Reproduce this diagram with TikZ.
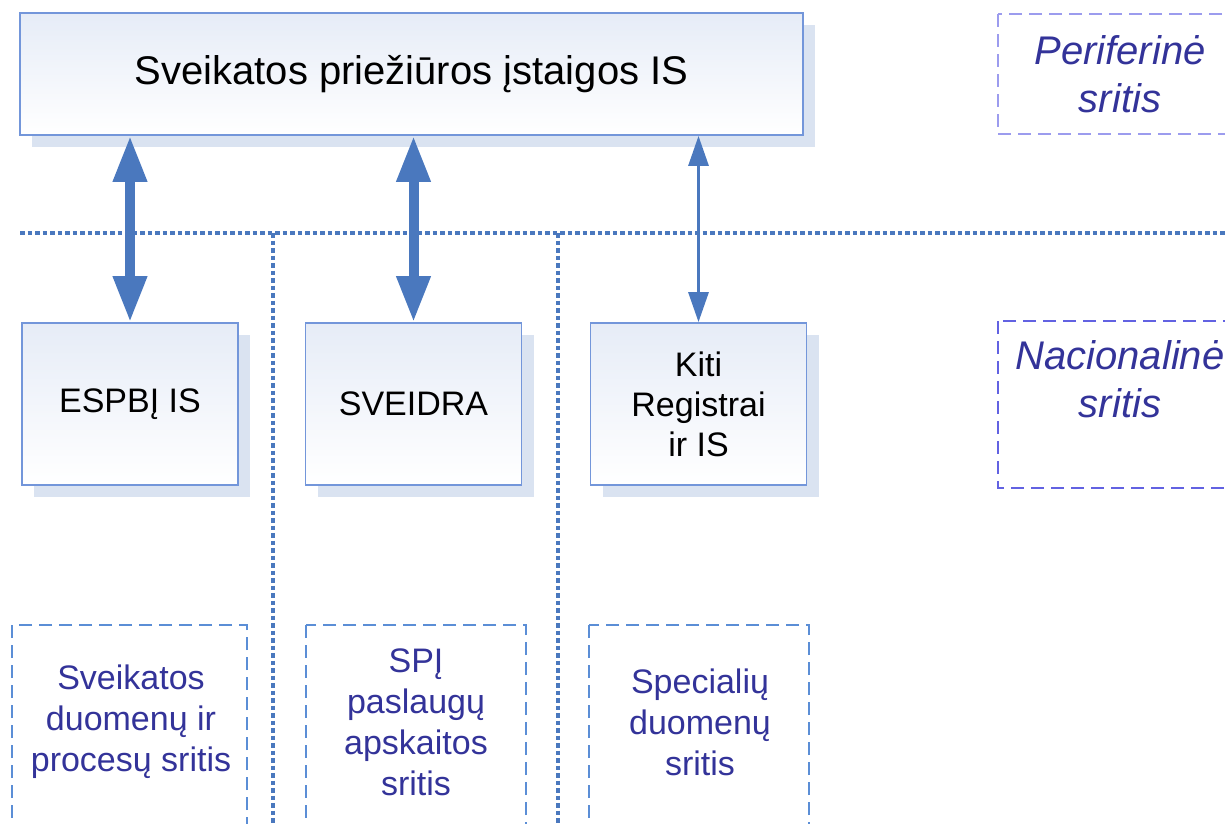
\documentclass[tikz,border=0pt]{standalone}
\usepackage{fontspec}
\setmainfont{Liberation Sans}
\usetikzlibrary{arrows.meta,shadows}
\definecolor{linkblue}{HTML}{4A78BE}
\definecolor{boxline}{HTML}{7396DA}
\definecolor{boxtop}{HTML}{E6ECF7}
\definecolor{shadowblue}{HTML}{DAE3F1}
\definecolor{regionblue}{HTML}{5B8ED6}
\definecolor{perline}{HTML}{9C9CEE}
\definecolor{nacline}{HTML}{6262E2}
\definecolor{labelblue}{HTML}{333399}
\tikzstyle{sysbox} = [draw=boxline, line width=1.8pt, top color=boxtop, bottom color=white, align=center, drop shadow={shadow xshift=12pt, shadow yshift=-12pt, fill=shadowblue, opacity=1}]
\tikzstyle{divider} = [draw=linkblue, line width=3.2pt, dash pattern=on 4.5pt off 3pt]
\tikzstyle{region} = [draw=regionblue, line width=2.5pt, dash pattern=on 13pt off 7pt]
\tikzstyle{sideregion} = [line width=2.5pt, dash pattern=on 13pt off 7pt]
\tikzstyle{regionlabel} = [text=labelblue, align=center, font=\fontsize{34}{41}\selectfont]
\tikzstyle{sidelabel} = [text=labelblue, align=center, font=\fontsize{40}{48}\selectfont\itshape]
\tikzstyle{bigarrow} = [draw=linkblue, line width=10pt, {Triangle[length=46pt,width=32pt]}-{Triangle[length=46pt,width=32pt]}]
\tikzstyle{thinarrow} = [draw=linkblue, line width=3pt, {Triangle[length=30pt,width=20pt]}-{Triangle[length=30pt,width=20pt]}]

\begin{document}
\begin{tikzpicture}[yscale=-1]
			\clip (0pt,0pt) rectangle (1225pt,823pt);
			\draw[divider] (20pt,233pt) -- (1225pt,233pt);
			\draw[divider] (273pt,233pt) -- (273pt,823pt);
			\draw[divider] (558pt,233pt) -- (558pt,823pt);
			\node[sysbox, minimum width=783pt, minimum height=122pt, font=\fontsize{40}{48}\selectfont] (spis) at (411.5pt,74pt) {Sveikatos priežiūros įstaigos IS};
			\node[sysbox, minimum width=216pt, minimum height=162pt, font=\fontsize{34}{40}\selectfont] (espbi) at (130pt,404pt) {ESPBĮ IS};
			\node[sysbox, minimum width=216pt, minimum height=162pt, font=\fontsize{34}{40}\selectfont] (sveidra) at (413.5pt,404pt) {SVEIDRA};
			\node[sysbox, minimum width=216pt, minimum height=162pt, font=\fontsize{34}{40}\selectfont] (kiti) at (698.5pt,404pt) {Kiti\\Registrai\\ir IS};
			\draw[bigarrow] (espbi.north |- spis.south) -- (espbi.north);
			\draw[bigarrow] (sveidra.north |- spis.south) -- (sveidra.north);
			\draw[thinarrow] (kiti.north |- spis.south) -- (kiti.north);
			\draw[sideregion, draw=perline] (998pt,14pt) rectangle (1250pt,134pt);
			\node[sidelabel] (periferine) at (1120pt,74pt) {Periferinė\\sritis};
			\draw[sideregion, draw=nacline] (998pt,321pt) rectangle (1250pt,488pt);
			\node[sidelabel] (nacionaline) at (1120pt,379pt) {Nacionalinė\\sritis};
			\draw[region] (12pt,625pt) rectangle (247pt,860pt);
			\node[regionlabel] (sveikatos) at (131pt,722pt) {Sveikatos\\duomenų ir\\procesų sritis};
			\draw[region] (306pt,625pt) rectangle (526pt,860pt);
			\node[regionlabel] (spi) at (416pt,722pt) {SPĮ\\paslaugų\\apskaitos\\sritis};
			\draw[region] (589pt,625pt) rectangle (809pt,860pt);
			\node[regionlabel] (specialiu) at (700pt,722pt) {Specialių\\duomenų\\sritis};
		\end{tikzpicture}
\end{document}
